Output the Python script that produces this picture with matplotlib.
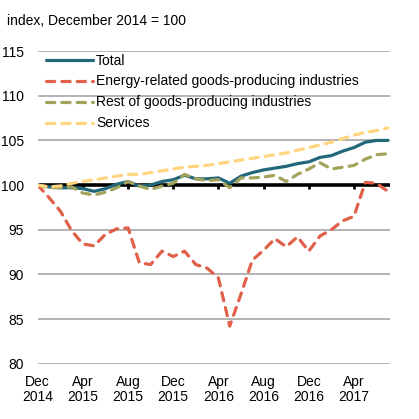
import numpy as np
import matplotlib.pyplot as plt

plt.rcParams['font.family'] = ['Liberation Sans', 'DejaVu Sans']

# monthly data, Dec 2014 .. Jul 2017
months = np.arange(32)
total = [100.0, 99.8, 99.7, 99.7, 99.6, 99.3, 99.6, 100.1, 100.4, 99.9, 100.0, 100.4,
         100.6, 101.1, 100.7, 100.7, 100.8, 100.2, 101.0, 101.4, 101.7, 101.9, 102.1, 102.4,
         102.6, 103.1, 103.3, 103.8, 104.2, 104.8, 105.0, 105.0]
energy = [100.0, 98.6, 97.1, 94.9, 93.4, 93.2, 94.5, 95.1, 95.2, 91.3, 91.1, 92.6,
          92.0, 92.6, 91.1, 90.7, 89.6, 84.2, 87.8, 91.6, 92.7, 94.0, 93.1, 94.2,
          92.6, 94.3, 95.0, 96.0, 96.5, 100.3, 100.2, 99.3]
rest = [100.0, 99.7, 99.7, 99.8, 99.1, 98.9, 99.2, 99.7, 100.4, 99.9, 99.5, 99.9,
        100.2, 101.2, 100.7, 100.5, 100.6, 99.7, 100.8, 100.8, 100.9, 101.1, 100.4, 101.2,
        101.8, 102.5, 101.8, 102.0, 102.2, 102.9, 103.4, 103.5]
services = [100.0, 99.8, 99.9, 100.2, 100.4, 100.6, 100.8, 101.0, 101.2, 101.2, 101.4, 101.6,
            101.8, 102.0, 102.1, 102.2, 102.4, 102.6, 102.8, 103.0, 103.2, 103.4, 103.6, 103.9,
            104.2, 104.5, 104.8, 105.2, 105.6, 105.9, 106.1, 106.4]

tick_pos = [0, 4, 8, 12, 16, 20, 24, 28]
tick_labels = ["Dec\n2014", "Apr\n2015", "Aug\n2015", "Dec\n2015",
               "Apr\n2016", "Aug\n2016", "Dec\n2016", "Apr\n2017"]

fig = plt.figure(figsize=(4.19, 4.19), dpi=100)
ax = fig.add_axes([0.09, 0.132, 0.841, 0.746])

for v in [80, 85, 90, 95, 105, 110, 115]:
    ax.axhline(v, color='#a6a6a6', lw=1.2, zorder=1)
ax.axhline(100, color='black', lw=2.6, zorder=2)
ax.vlines(tick_pos[1:], 99.55, 100, color='black', lw=2, zorder=2)

dash = (0, (2.6, 2.2))
ax.plot(months, total, color='#23687a', lw=2.3, label='Total', zorder=3,
        solid_capstyle='round')
ax.plot(months, energy, color='#e06049', lw=2.3, ls=dash, dash_capstyle='round',
        label='Energy-related goods-producing industries', zorder=3)
ax.plot(months, rest, color='#a3a35c', lw=2.3, ls=dash, dash_capstyle='round',
        label='Rest of goods-producing industries', zorder=3)
ax.plot(months, services, color='#ffd67f', lw=2.3, ls=dash, dash_capstyle='round',
        label='Services', zorder=3)

ax.set_xlim(0, 31.2)
ax.set_ylim(80, 115)
ax.set_yticks(range(80, 116, 5))
ax.set_xticks(tick_pos)
ax.set_xticklabels(tick_labels, linespacing=1.15)
ax.tick_params(axis='both', length=0, labelsize=10)
ax.tick_params(axis='y', pad=10)
ax.tick_params(axis='x', pad=8)
for s in ax.spines.values():
    s.set_visible(False)

ax.legend(loc='upper left', bbox_to_anchor=(0.008, 1.01), frameon=False, fontsize=10,
          handlelength=3.4, handletextpad=0.2, labelspacing=0.5, borderaxespad=0)

fig.text(0.017, 0.95, "index, December 2014 = 100", fontsize=10, va='center')

plt.savefig("out.png", dpi=100)
